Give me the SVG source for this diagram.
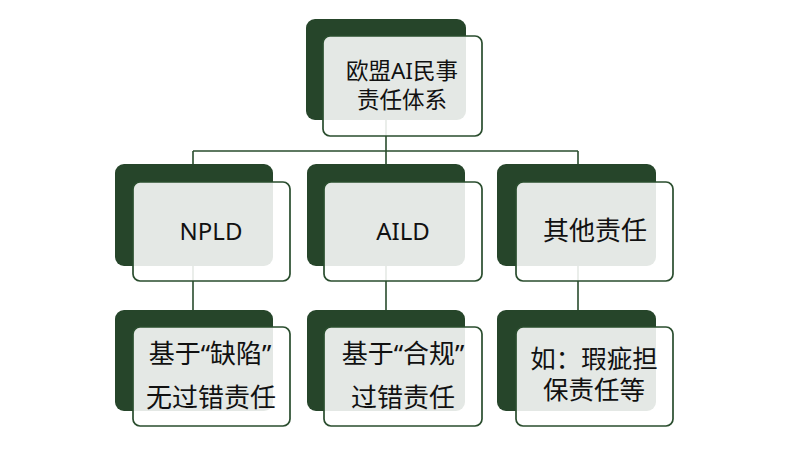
<svg xmlns="http://www.w3.org/2000/svg" width="800" height="458" viewBox="0 0 800 458">
<style>
.back{fill:#26452a;}
.front{fill:#ffffff;fill-opacity:0.88;stroke:#2a4d2e;stroke-width:1.7;}
.conn{stroke:#2a4d2e;stroke-width:1.6;fill:none;}
text{font-family:"Noto Sans","Noto Sans CJK SC",sans-serif;fill:#111;text-anchor:middle;}
.t23{font-size:22.5px;}
.t24{font-size:24px;}
.t25{font-size:25.5px;}
.t26{font-size:26px;}
</style>
<rect width="800" height="458" fill="#ffffff"/>
<g id="connectors">
<path class="conn" d="M386,70 V151 M193,151 H578 M193,151 V310 M386,151 V310 M578,151 V310"/>
</g>
<g id="root">
<rect class="back" x="306" y="19" width="160" height="101" rx="9"/>
<rect class="front" x="323" y="36" width="159" height="100" rx="7"/>
<text class="t23"><tspan x="402" y="78.5">欧盟AI民事</tspan><tspan x="402" y="107.5">责任体系</tspan></text>
</g>
<g id="npld">
<rect class="back" x="115" y="164" width="158" height="102" rx="9"/>
<rect class="front" x="133" y="182" width="157" height="99" rx="7"/>
<text class="t24" x="211" y="240">NPLD</text>
</g>
<g id="aild">
<rect class="back" x="307" y="164" width="158" height="102" rx="9"/>
<rect class="front" x="324" y="182" width="158" height="99" rx="7"/>
<text class="t24" x="403" y="240">AILD</text>
</g>
<g id="other">
<rect class="back" x="497" y="164" width="159" height="102" rx="9"/>
<rect class="front" x="516" y="182" width="157" height="99" rx="7"/>
<text class="t26" x="595" y="240">其他责任</text>
</g>
<g id="npld-detail">
<rect class="back" x="115" y="310" width="158" height="101" rx="9"/>
<rect class="front" x="133" y="327" width="157" height="99" rx="7"/>
<text class="t26"><tspan x="210" y="363">基于“缺陷”</tspan><tspan x="211" y="407">无过错责任</tspan></text>
</g>
<g id="aild-detail">
<rect class="back" x="307" y="310" width="158" height="101" rx="9"/>
<rect class="front" x="324" y="327" width="158" height="99" rx="7"/>
<text class="t26"><tspan x="403" y="363">基于“合规”</tspan><tspan x="403" y="407">过错责任</tspan></text>
</g>
<g id="other-detail">
<rect class="back" x="497" y="310" width="159" height="101" rx="9"/>
<rect class="front" x="516" y="327" width="157" height="99" rx="7"/>
<text class="t25"><tspan x="594" y="368">如：瑕疵担</tspan><tspan x="594" y="399">保责任等</tspan></text>
</g>
</svg>
